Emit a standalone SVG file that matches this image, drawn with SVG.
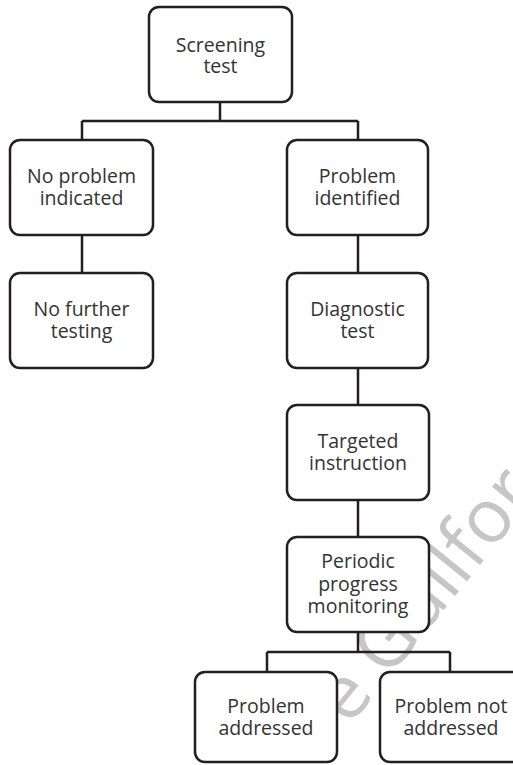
<svg xmlns="http://www.w3.org/2000/svg" width="513" height="765" viewBox="0 0 513 765">
<style>
.box{fill:#fff;stroke:#231f20;stroke-width:2.5}
.lbl{font-family:"Open Sans","DejaVu Sans",sans-serif;font-size:19.5px;fill:#333;text-anchor:middle}
.con{fill:none;stroke:#231f20;stroke-width:2.5}
.wm{font-family:"Open Sans","DejaVu Sans",sans-serif;font-size:75px;fill:#c6c6c6}
</style>
<rect width="513" height="765" fill="#fff"/>
<text class="wm" x="349" y="727" transform="rotate(-51 349 727)">e Guilfor</text>
<g id="connectors">
<path class="con" d="M220,102V121M82,121H358M82,121V140M358,121V140"/>
<path class="con" d="M82,235V273"/>
<path class="con" d="M358,235V273M358,368V405M358,500V537"/>
<path class="con" d="M358,632V652M267,652H450M267,652V672M450,652V672"/>
</g>
<g id="screening">
<rect class="box" x="149" y="7" width="143" height="95" rx="10"/>
<text class="lbl" x="220.5" y="52">Screening</text>
<text class="lbl" x="220.5" y="73">test</text>
</g>
<g id="no-problem">
<rect class="box" x="10" y="140" width="143" height="95" rx="10"/>
<text class="lbl" x="81.5" y="183">No problem</text>
<text class="lbl" x="81.5" y="205">indicated</text>
</g>
<g id="no-further">
<rect class="box" x="10" y="273" width="143" height="95" rx="10"/>
<text class="lbl" x="81.5" y="316">No further</text>
<text class="lbl" x="81.5" y="338">testing</text>
</g>
<g id="problem-identified">
<rect class="box" x="287" y="140" width="141" height="95" rx="10"/>
<text class="lbl" x="357.5" y="183">Problem</text>
<text class="lbl" x="357.5" y="205">identified</text>
</g>
<g id="diagnostic">
<rect class="box" x="287" y="273" width="141" height="95" rx="10"/>
<text class="lbl" x="357.5" y="316">Diagnostic</text>
<text class="lbl" x="357.5" y="338">test</text>
</g>
<g id="targeted">
<rect class="box" x="287" y="405" width="142" height="95" rx="10"/>
<text class="lbl" x="358" y="448">Targeted</text>
<text class="lbl" x="358" y="470">instruction</text>
</g>
<g id="periodic">
<rect class="box" x="287" y="537" width="142" height="95" rx="10"/>
<text class="lbl" x="358" y="568">Periodic</text>
<text class="lbl" x="358" y="590.5">progress</text>
<text class="lbl" x="358" y="613">monitoring</text>
</g>
<g id="addressed">
<rect class="box" x="195" y="672" width="142" height="90" rx="10"/>
<text class="lbl" x="266" y="713">Problem</text>
<text class="lbl" x="266" y="735">addressed</text>
</g>
<g id="not-addressed">
<rect class="box" x="380" y="672" width="142" height="90" rx="10"/>
<text class="lbl" x="451" y="713">Problem not</text>
<text class="lbl" x="451" y="735">addressed</text>
</g>
</svg>
